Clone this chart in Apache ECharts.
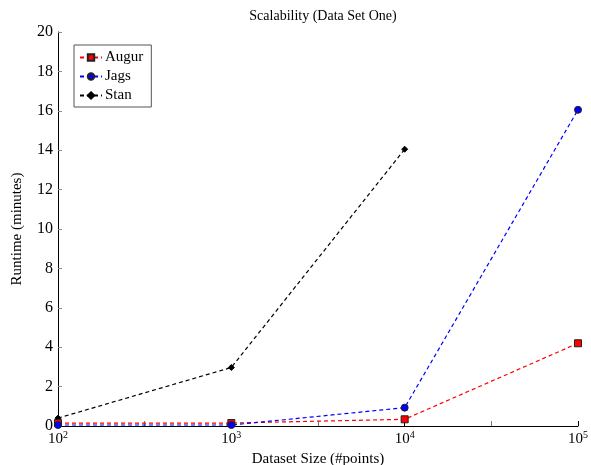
<!DOCTYPE html>
<html>
<head>
<meta charset="utf-8">
<script src="https://cdn.jsdelivr.net/npm/echarts@6/dist/echarts.min.js"></script>
<style>html,body{margin:0;padding:0;background:#fff}#c{width:591px;height:465px}</style>
</head>
<body>
<div id="c"></div>
<script>
const sizes = [100, 1000, 10000, 100000];
const augur = [0.15, 0.15, 0.34, 4.2];
const jags = [0.05, 0.05, 0.93, 16.05];
const stan = [0.4, 2.97, 14.05];
const yTicks = [0, 2, 4, 6, 8, 10, 12, 14, 16, 18, 20];
const minorXTicks = [2.5, 3.5, 4.5];

const FONT = '"Liberation Serif", "DejaVu Serif", serif';
const pair = (xs, ys) => ys.map((v, i) => [xs[i], v]);
const dash = [4, 3];

const chart = echarts.init(document.getElementById('c'), null, {renderer: 'canvas'});
chart.setOption({
  animation: false,
  backgroundColor: '#fff',
  textStyle: {fontFamily: FONT},
  title: {
    text: 'Scalability (Data Set One)',
    left: 318, textAlign: 'center', top: 4,
    textStyle: {fontFamily: FONT, fontSize: 14, fontWeight: 'normal', color: '#000'}
  },
  grid: {left: 58, right: 13, top: 32, bottom: 39, containLabel: false, outerBoundsMode: 'none'},
  legend: {
    orient: 'vertical', left: 74, top: 45,
    backgroundColor: '#fff', borderColor: '#555', borderWidth: 1,
    padding: [5, 8, 4, 5], itemGap: 4, itemWidth: 22, itemHeight: 8,
    textStyle: {fontFamily: FONT, fontSize: 15, color: '#000', padding: [0, 0, 0, -2]},
    data: ['Augur', 'Jags', 'Stan']
  },
  xAxis: [{
    type: 'log', logBase: 10, min: 100, max: 100000,
    name: 'Dataset Size (#points)', nameLocation: 'middle', nameGap: 21,
    nameTextStyle: {fontFamily: FONT, fontSize: 15, color: '#000'},
    axisLine: {lineStyle: {color: '#000', width: 1}},
    axisTick: {inside: true, length: 5, lineStyle: {color: '#000'}},
    splitLine: {show: false},
    axisLabel: {
      margin: 4, color: '#000', fontFamily: FONT, fontSize: 15,
      formatter: v => '{b|10}{s|' + Math.round(Math.log10(v)) + '}',
      rich: {b: {fontFamily: FONT, fontSize: 15, color: '#000'},
             s: {fontFamily: FONT, fontSize: 10, color: '#000', verticalAlign: 'top', padding: [0, 0, 8, 0]}}
    }
  }, {
    type: 'value', min: 2, max: 5, interval: 0.5, position: 'bottom',
    axisLine: {show: false}, axisLabel: {show: false}, splitLine: {show: false},
    axisTick: {inside: true, length: 5, customValues: minorXTicks, lineStyle: {color: '#777'}}
  }],
  yAxis: {
    type: 'value', min: 0, max: 20, interval: 2,
    name: 'Runtime (minutes)', nameLocation: 'middle', nameGap: 33, nameRotate: 90,
    nameTextStyle: {fontFamily: FONT, fontSize: 15, color: '#000'},
    axisLine: {show: true, lineStyle: {color: '#000', width: 1}},
    axisTick: {show: true, inside: true, length: 4, lineStyle: {color: '#888'}},
    splitLine: {show: false},
    axisLabel: {margin: 5, color: '#000', fontFamily: FONT, fontSize: 16,
      formatter: v => yTicks.includes(v) ? String(v) : ''}
  },
  series: [
    {name: 'Augur', type: 'line', data: pair(sizes, augur), symbol: 'rect', symbolSize: 7,
     itemStyle: {color: '#ff0000', borderColor: '#222', borderWidth: 1},
     lineStyle: {color: '#ff0000', type: dash, width: 1.2}, z: 3},
    {name: 'Jags', type: 'line', data: pair(sizes, jags), symbol: 'circle', symbolSize: 7,
     itemStyle: {color: '#0000ff', borderColor: '#222', borderWidth: 1},
     lineStyle: {color: '#0000ff', type: dash, width: 1.2}, z: 4},
    {name: 'Stan', type: 'line', data: pair(sizes, stan), symbol: 'diamond', symbolSize: 6,
     itemStyle: {color: '#000', borderColor: '#000', borderWidth: 1},
     lineStyle: {color: '#000', type: dash, width: 1.2}, z: 2}
  ]
});
</script>
</body>
</html>
